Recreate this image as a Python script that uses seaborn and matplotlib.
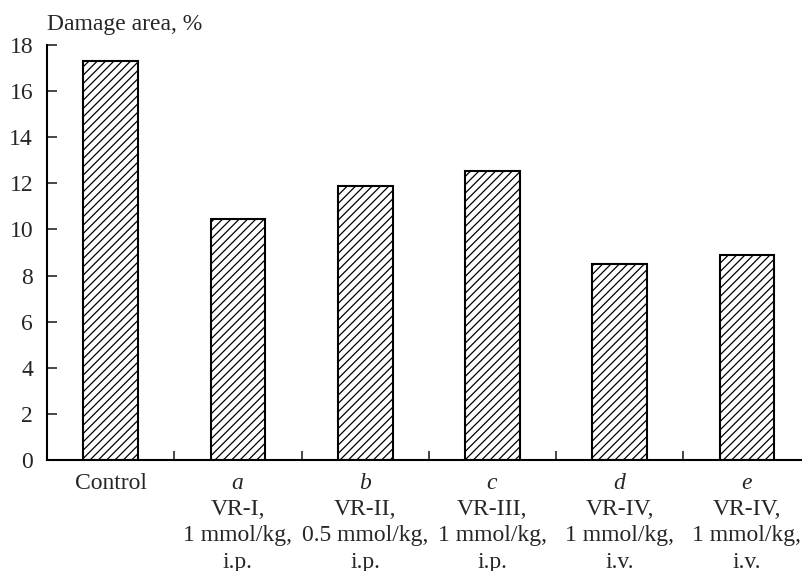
import matplotlib
matplotlib.use('Agg')
import matplotlib.pyplot as plt
import seaborn as sns

# Data
groups = ['Control', 'a', 'b', 'c', 'd', 'e']
damage = [17.3, 10.45, 11.9, 12.55, 8.5, 8.9]
compounds = ['', 'VR-I,', 'VR-II,', 'VR-III,', 'VR-IV,', 'VR-IV,']
doses = ['', '1 mmol/kg,', '0.5 mmol/kg,', '1 mmol/kg,', '1 mmol/kg,', '1 mmol/kg,']
routes = ['', 'i.p.', 'i.p.', 'i.p.', 'i.v.', 'i.v.']
yticks = list(range(0, 19, 2))

sns.set_style('ticks')
plt.rcParams['font.family'] = ['Liberation Serif', 'DejaVu Serif']
plt.rcParams['mathtext.fontset'] = 'custom'
plt.rcParams['mathtext.rm'] = 'Liberation Serif'
plt.rcParams['mathtext.it'] = 'Liberation Serif:italic'
plt.rcParams['hatch.linewidth'] = 0.9

fs = 17

fig = plt.figure(figsize=(8.03, 5.71), dpi=100)
ax = fig.add_axes([47 / 803, 1 - 460 / 571, 1 - 47 / 803, 415 / 571])

sns.barplot(x=groups, y=damage, color='white', edgecolor='black',
            linewidth=1.5, hatch='////', width=0.43, saturation=1, ax=ax)
for p in ax.patches:
    p.set_facecolor('white')

labels = []
for g, c, d, r in zip(groups, compounds, doses, routes):
    if c == '':
        labels.append(g)
    else:
        labels.append('$\\mathit{' + g + '}$\n' + c + '\n' + d + '\n' + r)

ax.set_xticks(range(len(groups)))
ax.set_xticklabels(labels, fontsize=fs, linespacing=1.32)
ax.set_xticks([i + 0.5 for i in range(len(groups) - 1)], minor=True)
ax.set_xlim(-0.5, 5.44)
ax.set_ylim(0, 18)
ax.set_yticks(yticks)
ax.set_yticklabels([str(t) for t in yticks], fontsize=fs)

ax.tick_params(axis='x', which='major', length=0, pad=9.5)
ax.tick_params(axis='x', which='minor', direction='in', length=6.5, width=1.2)
ax.tick_params(axis='y', direction='in', length=7, width=1.2, pad=10)

sns.despine(ax=ax)
for s in ['left', 'bottom']:
    ax.spines[s].set_linewidth(1.5)
    ax.spines[s].set_color('black')
ax.set_xlabel('')
ax.set_ylabel('')

fig.text(47 / 803, 1 - 30 / 571, 'Damage area, %', fontsize=fs,
         ha='left', va='baseline')

fig.savefig('out.png', dpi=100)
